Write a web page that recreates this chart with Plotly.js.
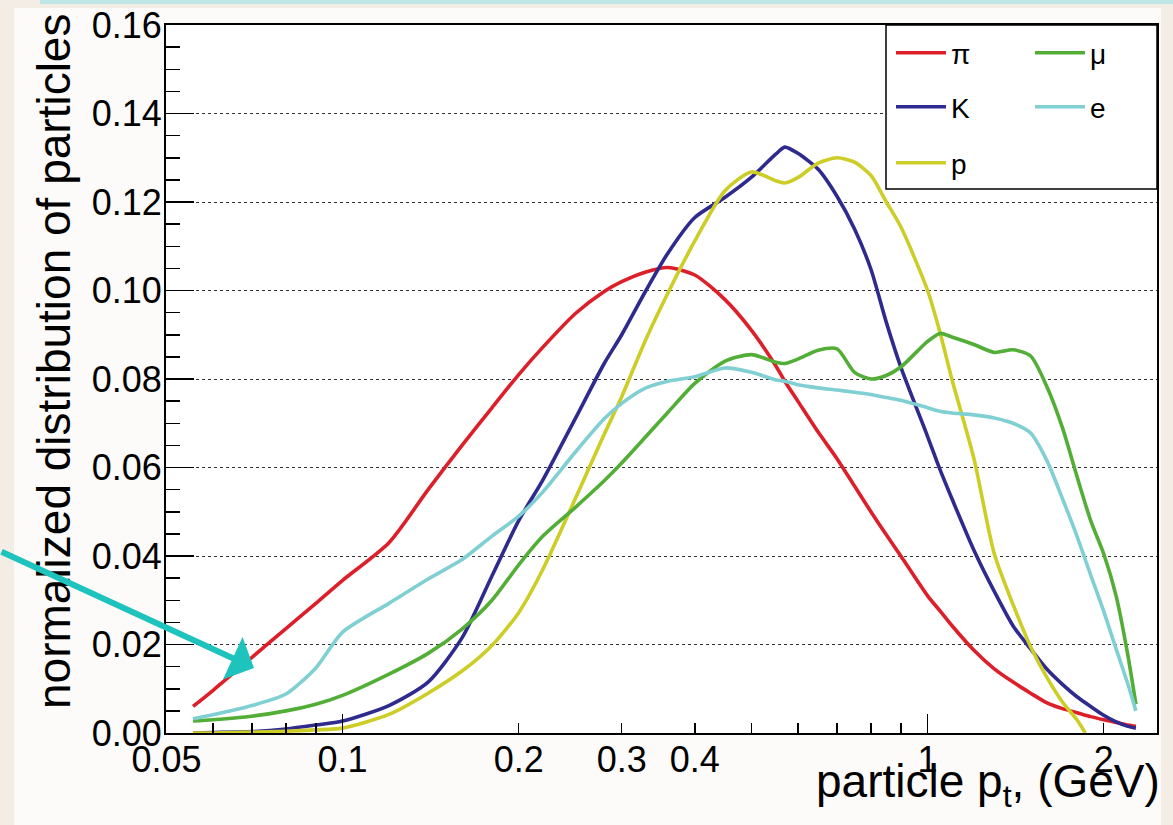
<!DOCTYPE html>
<html>
<head>
<meta charset="utf-8">
<script src="https://cdn.plot.ly/plotly-3.0.1.min.js"></script>
<style>
html,body{margin:0;padding:0;background:#fdfbf9;}
#chart{width:1173px;height:825px;}
</style>
</head>
<body>
<div id="chart"></div>
<script>
// ---- data ----
const pt = [0.0555, 0.06, 0.07, 0.08, 0.09, 0.1, 0.12, 0.14, 0.16, 0.18, 0.2, 0.22, 0.25, 0.28, 0.3, 0.33, 0.36, 0.4, 0.45, 0.5, 0.55, 0.57, 0.6, 0.65, 0.7, 0.75, 0.8, 0.85, 0.9, 1.0, 1.05, 1.1, 1.2, 1.3, 1.4, 1.5, 1.6, 1.7, 1.8, 1.9, 2.0, 2.1, 2.2, 2.27];

const pion = [0.0060, 0.0096, 0.0171, 0.0236, 0.0293, 0.0345, 0.0430, 0.0550, 0.0650, 0.0735, 0.0810, 0.0872, 0.0948, 0.0998, 0.1020, 0.1042, 0.1052, 0.1035, 0.0980, 0.0910, 0.0830, 0.0795, 0.0750, 0.0680, 0.0620, 0.0558, 0.0500, 0.0448, 0.0400, 0.0310, 0.0276, 0.0243, 0.0187, 0.0145, 0.0115, 0.0090, 0.0068, 0.0055, 0.0046, 0.0037, 0.0030, 0.0024, 0.0018, 0.0015];

const kaon = [0.0000, 0.0001, 0.0003, 0.0009, 0.0018, 0.0027, 0.0062, 0.0115, 0.0215, 0.0355, 0.0480, 0.0572, 0.0711, 0.0835, 0.0900, 0.1000, 0.1085, 0.1165, 0.1210, 0.1256, 0.1308, 0.1324, 0.1310, 0.1274, 0.1213, 0.1139, 0.1048, 0.0928, 0.0827, 0.0670, 0.0595, 0.0530, 0.0413, 0.0320, 0.0242, 0.0190, 0.0144, 0.0110, 0.0082, 0.0060, 0.0040, 0.0025, 0.0015, 0.0011];

const muon = [0.0027, 0.0030, 0.0038, 0.0050, 0.0065, 0.0085, 0.0133, 0.0180, 0.0235, 0.0300, 0.0380, 0.0445, 0.0510, 0.0570, 0.0610, 0.0670, 0.0725, 0.0790, 0.0840, 0.0855, 0.0838, 0.0835, 0.0845, 0.0865, 0.0868, 0.0815, 0.0800, 0.0808, 0.0827, 0.0885, 0.0903, 0.0895, 0.0878, 0.0860, 0.0866, 0.0852, 0.0782, 0.0690, 0.0580, 0.0480, 0.0405, 0.0310, 0.0175, 0.0065];

const electron = [0.0032, 0.0041, 0.0062, 0.0088, 0.0147, 0.0228, 0.0293, 0.0348, 0.0392, 0.0445, 0.0490, 0.0545, 0.0635, 0.0710, 0.0745, 0.0780, 0.0795, 0.0805, 0.0825, 0.0815, 0.0798, 0.0795, 0.0787, 0.0780, 0.0775, 0.0770, 0.0765, 0.0758, 0.0752, 0.0735, 0.0727, 0.0723, 0.0719, 0.0712, 0.0700, 0.0678, 0.0615, 0.0530, 0.0445, 0.0357, 0.0275, 0.0190, 0.0110, 0.0050];

const ptProton = [0.0555, 0.06, 0.07, 0.08, 0.09, 0.1, 0.12, 0.14, 0.16, 0.18, 0.2, 0.22, 0.25, 0.28, 0.3, 0.33, 0.36, 0.4, 0.45, 0.5, 0.55, 0.57, 0.6, 0.65, 0.7, 0.75, 0.8, 0.85, 0.9, 1.0, 1.05, 1.1, 1.2, 1.3, 1.4, 1.5, 1.6, 1.7, 1.8, 1.86];
const proton = [0.0000, 0.0000, 0.0002, 0.0004, 0.0007, 0.0011, 0.0042, 0.0090, 0.0140, 0.0198, 0.0272, 0.0370, 0.0530, 0.0675, 0.0760, 0.0890, 0.0995, 0.1112, 0.1225, 0.1268, 0.1248, 0.1243, 0.1255, 0.1288, 0.1300, 0.1290, 0.1260, 0.1200, 0.1144, 0.1000, 0.0905, 0.0800, 0.0620, 0.0405, 0.0290, 0.0195, 0.0125, 0.0070, 0.0030, 0.0000];

const seriesNames = ['π', 'K', 'p', 'μ', 'e'];
const seriesColors = ['#dc1f28', '#2e2a8e', '#cdcd28', '#52ae36', '#80cfd3'];

const xTickVals = [0.05, 0.1, 0.2, 0.3, 0.4, 1, 2];
const xTickText = ['0.05', '0.1', '0.2', '0.3', '0.4', '1', '2'];
const xMinorVals = [0.06, 0.07, 0.08, 0.09, 0.5, 0.6, 0.7, 0.8, 0.9];
const xLongTicks = [0.1, 1];

const xTitle = 'particle p<sub>t</sub>, (GeV)';
const yTitle = 'normalized distribution of particles';

// ---- layout geometry (pixels) ----
const W = 1173, H = 825, L = 166, R = 1157, T = 25, B = 733;
const pxX = v => (v - L) / (R - L);
const pxY = v => (B - v) / (B - T);
const FONT = 'Liberation Sans, Arial, Helvetica, sans-serif';
const xr0 = Math.log10(0.0499);
const xRange = [xr0, xr0 + (R - L) / 585];

const xs = [pt, pt, ptProton, pt, pt];
const ys = [pion, kaon, proton, muon, electron];
const legendIds = ['legend', 'legend2', 'legend3', 'legend4', 'legend5'];

const traces = seriesNames.map((n, i) => ({
  type: 'scatter', mode: 'lines', name: n,
  x: xs[i], y: ys[i],
  line: {color: seriesColors[i], width: 3.6, shape: 'spline', smoothing: 0.7},
  legend: legendIds[i], showlegend: true, hoverinfo: 'skip'
}));
traces.push({type: 'scatter', mode: 'lines', x: [], y: [], xaxis: 'x2', yaxis: 'y', showlegend: false, hoverinfo: 'skip'});

// legend positions (rows / columns in pixels)
const legRows = [53, 107, 163, 53, 107];
const legCols = [891, 891, 891, 1030, 1030];
const legendFont = {family: FONT, size: 28, color: '#000'};
const layout = {
  width: W, height: H,
  margin: {l: L, r: W - R, t: T, b: H - B, pad: 0},
  paper_bgcolor: '#fdfbf9', plot_bgcolor: '#ffffff',
  font: {family: FONT, color: '#000'},
  xaxis: {
    type: 'log', range: xRange, tickmode: 'array', tickvals: xTickVals, ticktext: xTickText,
    ticks: 'inside', ticklen: 10, tickwidth: 1.5, tickcolor: '#000', ticklabelstandoff: -6,
    showline: true, linecolor: '#000', linewidth: 2, mirror: true,
    showgrid: false, zeroline: false,
    tickfont: {family: FONT, size: 36, color: '#000'},
    minor: {tickmode: 'array', tickvals: xMinorVals, ticks: 'inside', ticklen: 10, tickwidth: 1.5, tickcolor: '#000', showgrid: false}
  },
  xaxis2: {
    type: 'log', range: xRange, overlaying: 'x', anchor: 'y', side: 'bottom',
    tickmode: 'array', tickvals: xLongTicks, ticks: 'inside', ticklen: 19, tickwidth: 1.5, tickcolor: '#000',
    showticklabels: false, showline: false, showgrid: false, zeroline: false
  },
  yaxis: {
    range: [0, 0.16], tick0: 0, dtick: 0.02, tickformat: '.2f',
    ticks: 'inside', ticklen: 28, tickwidth: 1.5, tickcolor: '#000', ticklabelstandoff: -5,
    showline: true, linecolor: '#000', linewidth: 2, mirror: true,
    showgrid: true, gridcolor: '#333', gridwidth: 1, griddash: 'dot', zeroline: false,
    tickfont: {family: FONT, size: 36, color: '#000'},
    minor: {dtick: 0.005, ticks: 'inside', ticklen: 14, tickwidth: 1.5, tickcolor: '#000', showgrid: false}
  },
  shapes: [
    {type: 'rect', xref: 'paper', yref: 'paper', x0: pxX(0), x1: pxX(14), y0: pxY(H), y1: pxY(0), fillcolor: '#f3ede6', line: {width: 0}, layer: 'below'},
    {type: 'rect', xref: 'paper', yref: 'paper', x0: pxX(1161), x1: pxX(W), y0: pxY(H), y1: pxY(0), fillcolor: '#f3ede6', line: {width: 0}, layer: 'below'},
    {type: 'rect', xref: 'paper', yref: 'paper', x0: pxX(0), x1: pxX(W), y0: pxY(8), y1: pxY(0), fillcolor: '#f3ede6', line: {width: 0}, layer: 'below'},
    {type: 'rect', xref: 'paper', yref: 'paper', x0: pxX(40), x1: pxX(W), y0: pxY(4), y1: pxY(0), fillcolor: '#bfe5e7', line: {width: 0}, layer: 'below'},
    {type: 'rect', xref: 'paper', yref: 'paper', x0: pxX(886), x1: pxX(R), y0: pxY(189), y1: pxY(T), fillcolor: '#ffffff', line: {color: '#000', width: 1.5}, layer: 'above'}
  ],
  annotations: [
    {xref: 'paper', yref: 'paper', x: pxX(54), y: pxY(362), xanchor: 'center', yanchor: 'middle', textangle: -90,
     text: yTitle, showarrow: false, font: {family: FONT, size: 46, color: '#000'}},
    {xref: 'paper', yref: 'paper', x: pxX(1162), y: pxY(784), xanchor: 'right', yanchor: 'middle',
     text: xTitle, showarrow: false, font: {family: FONT, size: 46, color: '#000'}},
    {xref: 'paper', yref: 'paper', x: pxX(254), y: pxY(668), text: '', showarrow: true,
     axref: 'pixel', ayref: 'pixel', ax: -259, ay: -117,
     arrowhead: 1, arrowsize: 1.3, arrowwidth: 6, arrowcolor: '#1fc3bd', standoff: 0}
  ]
};
legendIds.forEach((id, i) => {
  layout[id] = {
    x: pxX(legCols[i]), y: pxY(legRows[i]), xanchor: 'left', yanchor: 'middle',
    bgcolor: 'rgba(0,0,0,0)', borderwidth: 0, font: legendFont, itemwidth: 50
  };
});

Plotly.newPlot('chart', traces, layout, {staticPlot: true, displayModeBar: false});
</script>
</body>
</html>
